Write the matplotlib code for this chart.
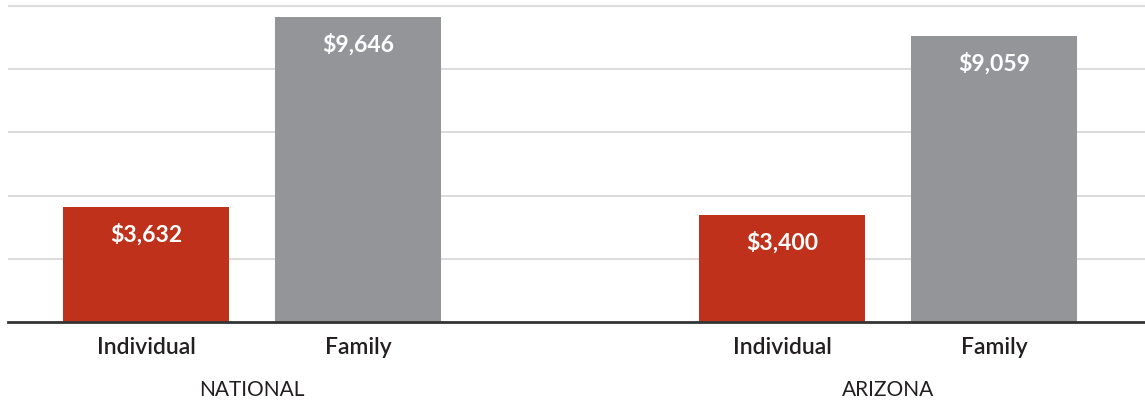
import matplotlib
matplotlib.use("Agg")
import matplotlib.pyplot as plt

# Data
groups = ["NATIONAL", "ARIZONA"]
categories = ["Individual", "Family", "Individual", "Family"]
values = [3632, 9646, 3400, 9059]
bar_colors = ["#BF311A", "#939598", "#BF311A", "#939598"]

plt.rcParams['font.family'] = ['Lato', 'DejaVu Sans']

positions = [0, 1, 3, 4]
group_centers = [0.5, 3.5]

fig = plt.figure(figsize=(11.45, 4.0), dpi=100)
ax = fig.add_axes([0.007, 0.195, 0.993, 0.805])

ax.bar(positions, values, width=0.78, color=bar_colors, zorder=2)

for x, v in zip(positions, values):
    ax.annotate(f"${v:,}", xy=(x, v), xytext=(0, -20), textcoords="offset points",
                ha="center", va="center", color="white", fontsize=16.5, fontweight="bold")

ax.set_xlim(-0.651, 4.712)
ax.set_ylim(0, 10190)
ax.set_yticks([2000, 4000, 6000, 8000, 10000])
ax.yaxis.grid(True, color="#dcdcdc", linewidth=1.5, zorder=0)
ax.set_axisbelow(True)
ax.tick_params(axis="y", left=False, labelleft=False)

ax.set_xticks(positions)
ax.set_xticklabels(categories, fontsize=16.5, color="#231f20", fontweight="semibold")
ax.tick_params(axis="x", length=0, pad=11)

for gx, g in zip(group_centers, groups):
    ax.text(gx, -0.21, g, transform=ax.get_xaxis_transform(), ha="center", va="center",
            fontsize=15, color="#231f20")

for side in ["top", "right", "left"]:
    ax.spines[side].set_visible(False)
ax.spines["bottom"].set_color("#333333")
ax.spines["bottom"].set_linewidth(2)
ax.spines["bottom"].set_zorder(3)

fig.savefig("out.png", dpi=100)
